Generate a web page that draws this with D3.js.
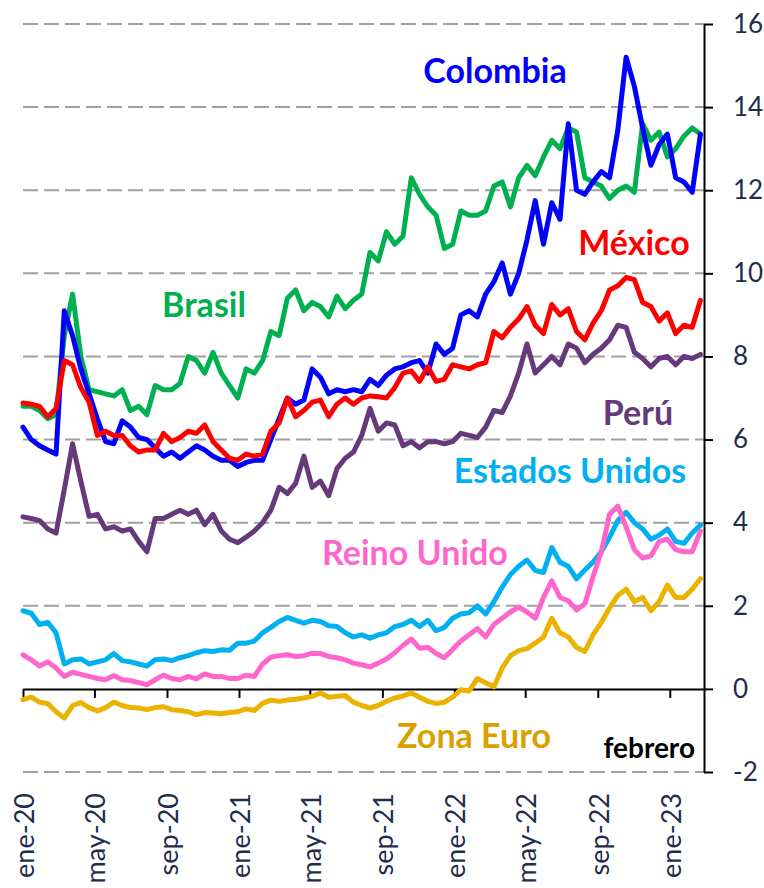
<!DOCTYPE html>
<html>
<head>
<meta charset="utf-8">
<script src="https://cdn.jsdelivr.net/npm/d3@7"></script>
<style>
body { margin: 0; background: #fff; }
svg { display: block; font-family: Lato, "Open Sans", sans-serif; }
</style>
</head>
<body>
<svg width="764" height="888"></svg>
<script>
// one value every two weeks, starting 1 Jan 2020
var firstDay = "2020-01-01";
var stepDays = 14;
var lastDay = "2023-02-28";

var brasil = [6.8,6.8,6.7,6.5,6.6,8.5,9.5,8.0,7.2,7.15, 7.1,7.05,7.2,6.7,6.8,6.6,7.3,7.2,7.2,7.35,
  8.0,7.9,7.6,8.1,7.6,7.3,7.0,7.7,7.6,7.9, 8.6,8.5,9.4,9.6,9.1,9.3,9.2,8.95,9.45,9.15,
  9.35,9.5,10.5,10.3,11.0,10.7,10.9,12.3,11.9,11.6, 11.4,10.6,10.7,11.5,11.4,11.4,11.5,12.1,12.2,11.6,
  12.3,12.6,12.35,12.8,13.2,13.0,13.5,13.4,12.3,12.2, 12.1,11.8,12.0,12.1,11.95,13.6,13.2,13.4,12.8,13.0,
  13.3,13.5,13.35];
var colombia = [6.3,6.0,5.85,5.75,5.65,9.1,8.5,7.7,7.1,6.5, 5.95,5.9,6.45,6.3,6.05,6.0,5.8,5.6,5.7,5.55,
  5.7,5.85,5.75,5.6,5.5,5.5,5.35,5.45,5.5,5.5, 6.0,6.5,7.0,6.85,6.95,7.7,7.5,7.1,7.2,7.15,
  7.2,7.15,7.45,7.3,7.55,7.7,7.75,7.85,7.9,7.6, 8.3,8.05,8.2,9.0,9.1,8.95,9.5,9.8,10.25,9.5,
  10.0,10.8,11.75,10.7,11.7,11.3,13.6,12.0,11.9,12.2, 12.45,12.3,13.45,15.2,14.5,13.5,12.6,13.1,13.35,12.3,
  12.2,11.95,13.35];
var mexico = [6.88,6.85,6.8,6.55,6.75,7.9,7.8,7.25,6.9,6.1, 6.2,6.1,6.1,5.85,5.7,5.75,5.75,6.15,5.95,6.05,
  6.2,6.15,6.35,5.95,5.75,5.55,5.5,5.65,5.6,5.65, 6.2,6.4,7.0,6.55,6.7,6.9,6.95,6.55,6.85,7.0,
  6.85,7.0,7.05,7.03,7.0,7.25,7.6,7.65,7.4,7.75, 7.4,7.45,7.8,7.75,7.7,7.8,7.85,8.6,8.45,8.7,
  8.9,9.2,8.75,8.55,9.25,9.0,9.15,8.6,8.4,8.8, 9.1,9.6,9.7,9.9,9.85,9.3,9.2,8.85,9.05,8.55,
  8.75,8.7,9.35];
var peru = [4.14,4.1,4.05,3.85,3.75,4.8,5.9,5.0,4.15,4.2, 3.85,3.9,3.8,3.85,3.55,3.3,4.1,4.1,4.2,4.3,
  4.2,4.3,3.95,4.2,3.8,3.6,3.52,3.65,3.8,4.0, 4.3,4.85,4.7,4.95,5.6,4.85,5.0,4.65,5.3,5.55,
  5.7,6.1,6.75,6.2,6.4,6.35,5.85,5.95,5.8,5.95, 5.95,5.9,5.95,6.15,6.1,6.05,6.3,6.7,6.65,7.05,
  7.6,8.3,7.6,7.8,8.0,7.8,8.3,8.2,7.85,8.05, 8.2,8.4,8.75,8.7,8.1,7.95,7.75,7.95,8.0,7.8,
  8.0,7.95,8.05];
var eeuu = [1.88,1.82,1.55,1.6,1.35,0.6,0.7,0.72,0.6,0.65, 0.7,0.85,0.68,0.65,0.6,0.55,0.7,0.72,0.68,0.75,
  0.8,0.87,0.92,0.9,0.94,0.93,1.1,1.1,1.15,1.35, 1.48,1.62,1.72,1.65,1.58,1.65,1.62,1.52,1.5,1.35,
  1.25,1.3,1.22,1.3,1.35,1.5,1.55,1.65,1.5,1.65, 1.4,1.48,1.7,1.8,1.83,2.0,1.8,2.1,2.45,2.75,
  2.95,3.1,2.85,2.8,3.4,3.05,2.95,2.65,2.86,3.05, 3.3,3.65,4.05,4.25,4.0,3.85,3.6,3.7,3.85,3.55,
  3.5,3.75,3.94];
var reinoUnido = [0.82,0.7,0.55,0.65,0.5,0.3,0.4,0.35,0.3,0.25, 0.22,0.32,0.22,0.2,0.15,0.1,0.22,0.33,0.25,0.22,
  0.3,0.24,0.36,0.3,0.3,0.25,0.25,0.33,0.3,0.6, 0.76,0.8,0.82,0.78,0.8,0.86,0.85,0.78,0.75,0.7,
  0.62,0.58,0.53,0.62,0.72,0.87,1.05,1.2,0.98,1.0, 0.85,0.75,0.95,1.15,1.3,1.45,1.25,1.55,1.7,1.85,
  1.97,1.85,1.7,2.2,2.6,2.2,2.12,1.9,2.05,2.7, 3.3,4.2,4.4,3.9,3.35,3.15,3.2,3.55,3.6,3.35,
  3.3,3.3,3.8];
var zonaEuro = [-0.26,-0.2,-0.32,-0.35,-0.55,-0.7,-0.4,-0.33,-0.45,-0.53, -0.45,-0.32,-0.4,-0.45,-0.46,-0.5,-0.45,-0.43,-0.5,-0.52,
  -0.55,-0.62,-0.57,-0.58,-0.6,-0.57,-0.55,-0.48,-0.52,-0.35, -0.27,-0.3,-0.27,-0.25,-0.22,-0.18,-0.1,-0.2,-0.18,-0.16,
  -0.32,-0.4,-0.46,-0.4,-0.3,-0.22,-0.17,-0.1,-0.2,-0.3, -0.35,-0.32,-0.2,-0.02,-0.05,0.25,0.15,0.05,0.5,0.8,
  0.92,0.97,1.1,1.25,1.7,1.35,1.25,1.0,0.9,1.3, 1.6,1.95,2.25,2.4,2.1,2.2,1.88,2.1,2.5,2.2,
  2.2,2.4,2.65];

var yTicks = [-2,0,2,4,6,8,10,12,14,16];
var monthNames = ["ene","feb","mar","abr","may","jun","jul","ago","sep","oct","nov","dic"];

var series = [
  {name: "Brasil", values: brasil, color: "#00B050", text: "#00B050", lx: 204, ly: 317},
  {name: "Colombia", values: colombia, color: "#0000FF", text: "#0000FF", lx: 495, ly: 83},
  {name: "México", values: mexico, color: "#FF0000", text: "#FF0000", lx: 634, ly: 255},
  {name: "Perú", values: peru, color: "#66397A", text: "#66397A", lx: 638, ly: 425},
  {name: "Estados Unidos", values: eeuu, color: "#00B0F0", text: "#00B0F0", lx: 570, ly: 483},
  {name: "Reino Unido", values: reinoUnido, color: "#FF66CC", text: "#FF66CC", lx: 415, ly: 565},
  {name: "Zona Euro", values: zonaEuro, color: "#EBB200", text: "#D9A000", lx: 474, ly: 748}
];

var svg = d3.select("svg");
var parse = d3.timeParse("%Y-%m-%d");
var start = parse(firstDay);
var dates = brasil.map(function(d, i) { return d3.timeDay.offset(start, i * stepDays); });

var x = d3.scaleTime().domain([start, parse(lastDay)]).range([23, 704]);
var y = d3.scaleLinear().domain([-2, 16]).range([772, 24]);

// dashed grid
svg.append("g").selectAll("line")
  .data(yTicks.filter(function(v) { return v !== 0; }))
  .enter().append("line")
  .attr("x1", 23).attr("x2", 704)
  .attr("y1", function(d) { return y(d); })
  .attr("y2", function(d) { return y(d); })
  .attr("stroke", "#A0A0A0")
  .attr("stroke-width", 2)
  .attr("stroke-dasharray", "15,6");

// x axis on the zero line, labels drawn below the plot
var xTicks = x.ticks(d3.timeMonth.every(4));
var xAxis = svg.append("g")
  .attr("transform", "translate(0," + y(0) + ")")
  .call(d3.axisBottom(x).tickValues(xTicks).tickSize(9).tickSizeOuter(0).tickFormat(""));
xAxis.selectAll("path, line").attr("stroke", "#000").attr("stroke-width", 2);

svg.append("g").selectAll("text")
  .data(xTicks)
  .enter().append("text")
  .attr("transform", function(d) { return "translate(" + (x(d) + 11) + ",793) rotate(-90)"; })
  .attr("text-anchor", "end")
  .attr("font-size", 27)
  .attr("fill", "#1F2D4D")
  .text(function(d) { return monthNames[d.getMonth()] + "-" + d3.timeFormat("%y")(d); });

// y axis on the right
var yAxis = svg.append("g")
  .attr("transform", "translate(704,0)")
  .call(d3.axisRight(y).tickValues(yTicks).tickSize(9).tickSizeOuter(0).tickPadding(20)
    .tickFormat(function(d) { return String(d); }));
yAxis.selectAll("path, line").attr("stroke", "#000").attr("stroke-width", 2);
yAxis.selectAll("text")
  .attr("font-family", "Lato, 'Open Sans', sans-serif")
  .attr("font-size", 26)
  .attr("fill", "#1F2D4D");

var line = d3.line()
  .x(function(d, i) { return x(dates[i]); })
  .y(function(d) { return y(d); });

svg.append("g").selectAll("path")
  .data(series)
  .enter().append("path")
  .attr("d", function(s) { return line(s.values); })
  .attr("fill", "none")
  .attr("stroke", function(s) { return s.color; })
  .attr("stroke-width", 5)
  .attr("stroke-linejoin", "round")
  .attr("stroke-linecap", "round");

svg.append("g").selectAll("text")
  .data(series)
  .enter().append("text")
  .attr("x", function(s) { return s.lx; })
  .attr("y", function(s) { return s.ly; })
  .attr("text-anchor", "middle")
  .attr("font-size", 34)
  .attr("font-weight", "bold")
  .attr("fill", function(s) { return s.text; })
  .text(function(s) { return s.name; });

svg.append("text")
  .attr("x", 695)
  .attr("y", 758)
  .attr("text-anchor", "end")
  .attr("font-size", 28)
  .attr("font-weight", "bold")
  .attr("fill", "#000")
  .text("febrero");
</script>
</body>
</html>
